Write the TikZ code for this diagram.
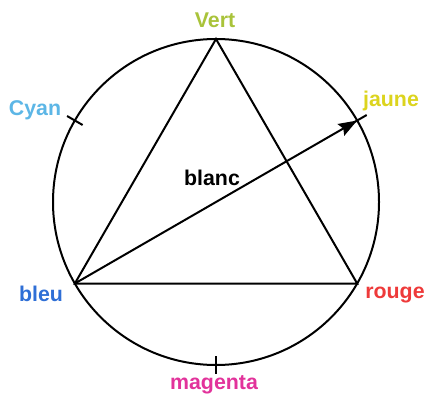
\documentclass[tikz,border=0pt]{standalone}
\usepackage{xcolor}
\usepackage{fontspec}
\setmainfont{Liberation Sans}
\usepackage{tikz}
\usetikzlibrary{arrows.meta}
\definecolor{colvert}{HTML}{A9C33A}
\definecolor{colcyan}{HTML}{5CB6E6}
\definecolor{coljaune}{HTML}{DCD41E}
\definecolor{colbleu}{HTML}{2F6FD6}
\definecolor{colrouge}{HTML}{EE3A3A}
\definecolor{colmagenta}{HTML}{E2339B}

\begin{document}
\begin{tikzpicture}[x=0.75pt,y=0.75pt,line width=1.5pt,
    lbl/.style={font=\bfseries\fontsize{16}{16}\selectfont,inner sep=0pt}]
    \useasboundingbox (0,0) rectangle (427,397);
    % circle and vertices
    \coordinate (c) at (216,195);
    \draw (c) circle[radius=163];
    \coordinate (vert) at ([shift={(90:163)}]c);
    \coordinate (bleu) at ([shift={(210:163)}]c);
    \coordinate (rouge) at ([shift={(330:163)}]c);
    \coordinate (jaune) at ([shift={(30:163)}]c);
    % triangle
    \draw[line join=miter] (vert) -- (bleu) -- (rouge) -- cycle;
    % ticks
    \coordinate (cyanin) at ([shift={(150:154)}]c); \coordinate (cyanout) at ([shift={(150:172)}]c);
    \coordinate (magin) at ([shift={(270:154)}]c); \coordinate (magout) at ([shift={(270:172)}]c);
    \coordinate (jauin) at ([shift={(30:154)}]c); \coordinate (jauout) at ([shift={(30:174)}]c);
    \draw (cyanin) -- (cyanout);
    \draw (magin) -- (magout);
    \draw (jauin) -- (jauout);
    % diameter
    \draw[-{Stealth[length=14pt,width=10pt,inset=2pt]}] (bleu) -- (jaune);
    % labels
    \node[lbl,color=colvert] (tvert) at (215,377){Vert};
    \node[lbl,color=colcyan] (tcyan) at (35,287){Cyan};
    \node[lbl,color=coljaune] (tjaune) at (391,296){jaune};
    \node[lbl,color=colbleu] (tbleu) at (41,103){bleu};
    \node[lbl,color=colrouge] (trouge) at (395,102){rouge};
    \node[lbl,color=colmagenta] (tmag) at (214,12){magenta};
    \node[lbl,color=black] (tblanc) at (212,219){blanc};
\end{tikzpicture}
\end{document}
